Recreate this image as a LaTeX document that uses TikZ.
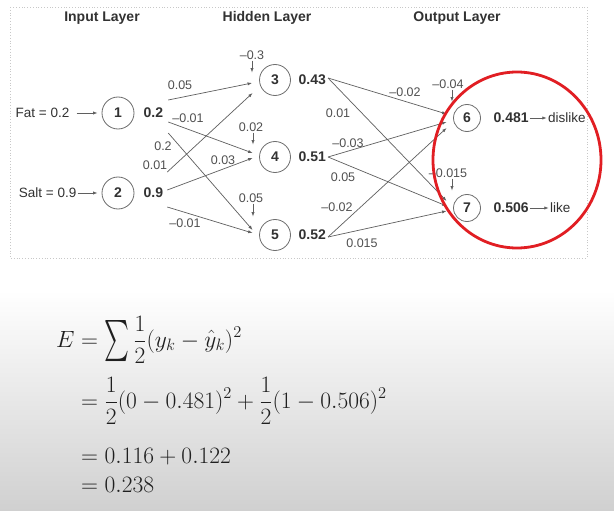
\RequirePackage{fix-cm}
\documentclass[tikz,border=0pt]{standalone}
\usepackage{amsmath}
\usepackage{fontspec}
\newfontfamily\netfont{Liberation Sans}
\definecolor{inkgray}{RGB}{50,50,50}
\definecolor{labgray}{RGB}{80,80,80}
\definecolor{wiregray}{RGB}{95,95,95}
\definecolor{ringgray}{RGB}{110,110,110}
\definecolor{framegray}{RGB}{200,200,200}
\definecolor{ringred}{RGB}{225,30,35}
\definecolor{bggray}{RGB}{208,208,208}
\colorlet{eqink}{black!88}
\usetikzlibrary{calc, positioning, arrows.meta}
\newcommand{\tallsum}{\mathop{\vcenter{\hbox{\scalebox{0.95}[1.65]{$\textstyle\sum$}}}}}

\begin{document}
\begin{tikzpicture}[x=1pt, y=-1pt,
    neuron/.style={circle, draw=ringgray, line width=0.8pt, inner sep=0pt,
      minimum size=31pt, text=inkgray, font=\netfont\bfseries\fontsize{14}{16}\selectfont},
    val/.style={inner sep=1pt, text=inkgray, font=\netfont\bfseries\fontsize{14}{16}\selectfont},
    wlab/.style={inner sep=1pt, text=labgray, font=\netfont\fontsize{12.5}{14}\selectfont},
    plain/.style={inner sep=1pt, text=inkgray, font=\netfont\fontsize{13.5}{15}\selectfont},
    layer/.style={inner sep=1pt, text=inkgray, font=\netfont\bfseries\fontsize{14}{16}\selectfont},
    wire/.style={draw=wiregray, line width=0.7pt, -{Latex[length=4.5pt,width=3.2pt]}},
    eqline/.style={anchor=base west, inner sep=0pt, text=eqink, font=\fontsize{23.5}{28}\selectfont},
  ]
    \useasboundingbox (0,0) rectangle (614,511);
    \fill[white] (0,0) rectangle (614,511);
    \shade[top color=white, bottom color=bggray] (0,290) rectangle (614,511);
    \draw[framegray, dotted, line width=0.8pt] (10,7) rectangle (587,258);

    % layer titles
    \node[layer] (tin) at (102,18) {Input Layer};
    \node[layer] (thid) at (267,18) {Hidden Layer};
    \node[layer] (tout) at (457,18) {Output Layer};

    % neurons
    \node[neuron, minimum size=32pt] (n1) at (118,113) {1};
    \node[neuron, minimum size=32pt] (n2) at (118,193) {2};
    \node[neuron] (n3) at (275,80) {3};
    \node[neuron] (n4) at (275,157) {4};
    \node[neuron] (n5) at (275,235) {5};
    \node[neuron, minimum size=27pt] (n6) at (467,118) {6};
    \node[neuron, minimum size=27pt] (n7) at (467,208) {7};

    % outputs of the units
    \node[val, right=8pt of n1] (v1) {0.2};
    \node[val, right=8pt of n2] (v2) {0.9};
    \node[val, right=6.5pt of n3] (v3) {0.43};
    \node[val, right=6.5pt of n4] (v4) {0.51};
    \node[val, right=6.5pt of n5] (v5) {0.52};
    \node[val, right=11.5pt of n6] (v6) {0.481};
    \node[val, right=11.5pt of n7] (v7) {0.506};

    % inputs and classes
    \node[plain, left=31pt of n1] (fat) {Fat = 0.2};
    \node[plain, left=24pt of n2] (salt) {Salt = 0.9};
    \node[plain, right=17pt of v6] (dis) {dislike};
    \node[plain, right=19pt of v7] (like) {like};
    \draw[wire] ($(fat.east)+(6,0)$) -- ($(n1.west)+(-4,0)$);
    \draw[wire] (salt.east) -- ($(n2.west)+(-4,0)$);
    \draw[wire] (v6.east) -- (dis.west);
    \draw[wire] (v7.east) -- (like.west);

    % input -> hidden
    \draw[wire] ($(v1.east)+(4,-13)$) -- ($(n3.west)+(-7,3)$);
    \draw[wire] ($(v1.east)+(4,9)$) -- ($(n4.west)+(-6.5,-4)$);
    \draw[wire] ($(v1.east)+(4,20)$) -- ($(n5.west)+(-6.5,-5)$);
    \draw[wire] ($(v2.east)+(3,-21)$) -- ($(n3.west)+(-6.5,13)$);
    \draw[wire] ($(v2.east)+(3,-3)$) -- ($(n4.west)+(-6.5,1)$);
    \draw[wire] ($(v2.east)+(3,14)$) -- ($(n5.west)+(-6.5,-2)$);
    \node[wlab] (w13) at (180,85) {0.05};
    \node[wlab] (w14) at (188,118) {\textendash0.01};
    \node[wlab] (w15) at (163,146) {0.2};
    \node[wlab] (w23) at (155,165) {0.01};
    \node[wlab] (w24) at (223,160) {0.03};
    \node[wlab] (w25) at (185,223) {\textendash0.01};

    % hidden -> output
    \draw[wire] ($(v3.east)+(1,-2)$) -- ($(n6.west)+(-6.5,-4)$);
    \draw[wire] ($(v3.east)+(1,-2)$) -- ($(n7.west)+(-6.5,-7)$);
    \draw[wire] ($(v4.east)+(1,0)$) -- ($(n6.west)+(-6.5,4)$);
    \draw[wire] ($(v4.east)+(1,0)$) -- ($(n7.west)+(-6.5,-2)$);
    \draw[wire] ($(v5.east)+(1,2)$) -- ($(n6.west)+(-6.5,10)$);
    \draw[wire] ($(v5.east)+(1,2)$) -- ($(n7.west)+(-6.5,3)$);
    \node[wlab] (w36) at (405,92) {\textendash0.02};
    \node[wlab] (w37) at (338,113) {0.01};
    \node[wlab] (w46) at (348,143) {\textendash0.03};
    \node[wlab] (w47) at (343,177) {0.05};
    \node[wlab] (w56) at (337,207) {\textendash0.02};
    \node[wlab] (w57) at (362,243) {0.015};

    % biases
    \node[wlab] (b3) at (252,55) {\textendash0.3};
    \node[wlab] (b4) at (251,127) {0.02};
    \node[wlab] (b5) at (251,198) {0.05};
    \node[wlab] (b6) at (448,84) {\textendash0.04};
    \node[wlab] (b7) at (448,173) {\textendash0.015};
    \draw[wire] (b3.south) -- ++(0,12);
    \draw[wire] ($(b4.south)+(2,0)$) -- ++(0,12);
    \draw[wire] ($(b5.south)+(2,0)$) -- ++(0,13);
    \draw[wire] ($(b6.south)+(4,0)$) -- ++(0,12);
    \draw[wire] ($(b7.south)+(4,0)$) -- ++(0,12);

    % output layer ring
    \draw[ringred, line width=2.8pt] (517,160) ellipse [x radius=84, y radius=88];

    % error
    \node[eqline] (e1) at (56,347) {$\displaystyle E=\tallsum\frac{1}{2}(y_k-\hat{y}_k)^2$};
    \node[eqline] (e2) at (81,408) {$\displaystyle =\frac{1}{2}(0-0.481)^2+\frac{1}{2}(1-0.506)^2$};
    \node[eqline] (e3) at (81,463) {$=0.116+0.122$};
    \node[eqline] (e4) at (81,492) {$=0.238$};
  \end{tikzpicture}
\end{document}
